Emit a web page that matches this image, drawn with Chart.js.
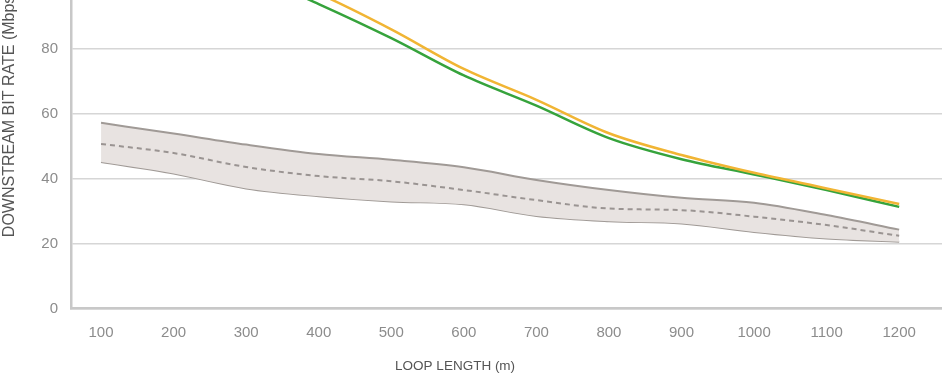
<!DOCTYPE html>
<html>
<head>
<meta charset="utf-8">
<script src="https://cdn.jsdelivr.net/npm/chart.js@4/dist/chart.umd.min.js"></script>
<style>
  html, body { margin: 0; padding: 0; background: #ffffff; }
  #frame { position: relative; width: 942px; height: 381px; overflow: hidden; background: #fff; }
  #wrap { position: absolute; left: 0; top: -103px; width: 942px; height: 484px; }
</style>
</head>
<body>
<div id="frame"><div id="wrap"><canvas id="c"></canvas></div></div>
<script>
// ---- data ----
const loopLengths = [100, 200, 300, 400, 500, 600, 700, 800, 900, 1000, 1100, 1200];
const yellowSeries = [119, 113, 106, 97, 86, 73.8, 64.3, 54, 47.3, 41.8, 37, 32.2];
const greenSeries  = [118, 111, 103.5, 93.8, 83.3, 71.8, 62.5, 52.5, 46, 41.3, 36.5, 31.3];
const medianSeries = [50.7, 47.9, 43.6, 40.8, 39.2, 36.5, 33.4, 30.8, 30.3, 28.3, 25.7, 22.4];
const upperSeries  = [57.2, 53.9, 50.5, 47.6, 45.8, 43.5, 39.6, 36.5, 34.1, 32.6, 28.8, 24.3];
const lowerSeries  = [45.1, 41.6, 37.0, 34.6, 33.0, 32.1, 28.5, 26.9, 26.2, 23.6, 21.6, 20.6];
const yTicks = [0, 20, 40, 60, 80, 100, 120];
const xTitle = 'LOOP LENGTH (m)';
const yTitle = 'DOWNSTREAM BIT RATE (Mbps)';

const pts = arr => arr.map((v, i) => ({ x: loopLengths[i], y: v }));

const xTitlePlugin = {
  id: 'xTitle',
  afterDraw(chart) {
    const { ctx, chartArea } = chart;
    ctx.save();
    ctx.font = '13.5px "Liberation Sans", sans-serif';
    ctx.fillStyle = '#555555';
    ctx.textAlign = 'center';
    ctx.textBaseline = 'middle';
    const x = chartArea.left + 0.441 * (chartArea.right - chartArea.left);
    ctx.fillText(xTitle, x, chartArea.bottom + 58);
    ctx.restore();
  }
};

const lineBase = { pointRadius: 0, cubicInterpolationMode: 'monotone', fill: false };

new Chart(document.getElementById('c'), {
  type: 'line',
  data: {
    datasets: [
      { ...lineBase, data: pts(yellowSeries), borderColor: '#f1b534', borderWidth: 2.5 },
      { ...lineBase, data: pts(greenSeries), borderColor: '#36a33c', borderWidth: 2.5 },
      { ...lineBase, data: pts(medianSeries), borderColor: '#9a9492', borderWidth: 2, borderDash: [5, 4] },
      { ...lineBase, data: pts(upperSeries), borderColor: '#a09a96', borderWidth: 2, fill: 4, backgroundColor: '#e8e3e1' },
      { ...lineBase, data: pts(lowerSeries), borderColor: '#a09a96', borderWidth: 2 }
    ]
  },
  options: {
    responsive: true,
    maintainAspectRatio: false,
    animation: false,
    layout: { padding: { top: 0, right: 0, bottom: 24.5, left: 0 } },
    plugins: { legend: { display: false }, tooltip: { enabled: false } },
    scales: {
      x: {
        type: 'linear',
        min: 58.6,
        max: 1259,
        afterBuildTicks: s => { s.ticks = loopLengths.map(v => ({ value: v })); },
        ticks: { color: '#8c8c8c', font: { family: '"Liberation Sans", sans-serif', size: 15 }, padding: 15, maxRotation: 0, autoSkip: false, callback: v => String(v) },
        grid: { display: false, drawTicks: false },
        border: { display: true, color: '#c8c8c8', width: 2.5 }
      },
      y: {
        min: 0,
        max: 120,
        afterBuildTicks: s => { s.ticks = yTicks.map(v => ({ value: v })); },
        afterFit: s => { s.width = 71; },
        ticks: { color: '#8c8c8c', font: { family: '"Liberation Sans", sans-serif', size: 15 }, padding: 13, callback: v => String(v) },
        grid: { color: '#d6d6d6', lineWidth: 1.5, drawTicks: false },
        border: { display: true, color: '#c8c8c8', width: 2.5 },
        title: { display: true, text: yTitle, color: '#555555', font: { family: '"Liberation Sans", sans-serif', size: 16 }, padding: { top: 0, bottom: 0 } }
      }
    }
  },
  plugins: [xTitlePlugin]
});
</script>
</body>
</html>
